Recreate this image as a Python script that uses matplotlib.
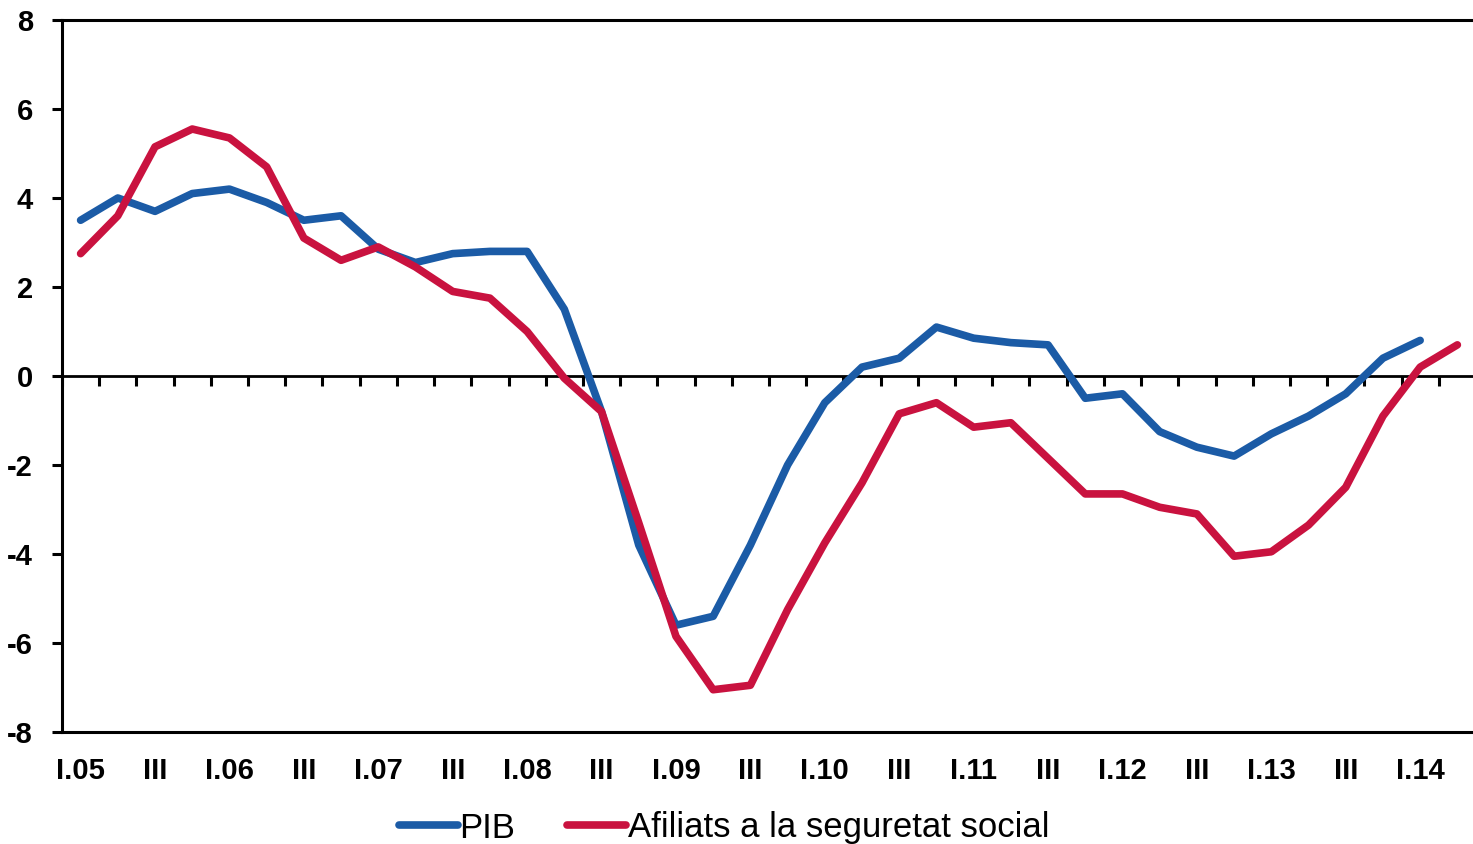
import numpy as np
import matplotlib
matplotlib.use("Agg")
import matplotlib.pyplot as plt

plt.rcParams['font.family'] = ['Liberation Sans', 'DejaVu Sans']
plt.rcParams['axes.unicode_minus'] = False

# quarterly data, I.05 .. II.14
years = ['05', '06', '07', '08', '09', '10', '11', '12', '13', '14']
quarters = []
for yy in years:
    quarters += ['I.' + yy, 'II', 'III', 'IV']
quarters = quarters[:38]

pib = [3.5, 4.0, 3.7, 4.1, 4.2, 3.9, 3.5, 3.6,
       2.85, 2.55, 2.75, 2.8, 2.8, 1.5, -0.8, -3.8,
       -5.6, -5.4, -3.8, -2.0, -0.6, 0.2, 0.4, 1.1,
       0.85, 0.75, 0.7, -0.5, -0.4, -1.25, -1.6, -1.8,
       -1.3, -0.9, -0.4, 0.4, 0.8]

afiliats = [2.75, 3.6, 5.15, 5.55, 5.35, 4.7, 3.1, 2.6,
            2.9, 2.45, 1.9, 1.75, 1.0, -0.05, -0.8, -3.3,
            -5.85, -7.05, -6.95, -5.25, -3.75, -2.4, -0.85, -0.6,
            -1.15, -1.05, -1.85, -2.65, -2.65, -2.95, -3.1, -4.05,
            -3.95, -3.35, -2.5, -0.9, 0.2, 0.7]

y_ticks = [-8, -6, -4, -2, 0, 2, 4, 6, 8]

blue = '#1b5ba6'
red = '#c9123f'

fig = plt.figure(figsize=(14.73, 8.44), dpi=100)
ax = fig.add_axes([62 / 1473, 1 - 732 / 844, 1 - 62 / 1473, (732 - 20) / 844])

x_pib = np.arange(len(pib))
x_af = np.arange(len(afiliats))
ax.plot(x_pib, pib, color=blue, lw=5.5, solid_capstyle='round', label='PIB', zorder=3)
ax.plot(x_af, afiliats, color=red, lw=5.5, solid_capstyle='round',
        label='Afiliats a la seguretat social', zorder=4)

# zero line with quarter separators
ax.axhline(0, color='black', lw=2, zorder=2)
bounds = np.arange(len(quarters) + 1) - 0.5
ax.plot(bounds, np.zeros(len(bounds)), linestyle='none', marker=3,
        markersize=7, mew=2.2, color='black', zorder=2)

ax.set_xlim(-0.5, 37.42)
ax.set_ylim(-8, 8)
ax.set_yticks(y_ticks)
ax.set_yticklabels([str(v) for v in y_ticks], fontsize=21, fontweight='bold')

idx = np.arange(0, len(quarters), 2)
ax.set_xticks(idx)
ax.set_xticklabels([quarters[i] for i in idx], fontsize=21, fontweight='bold')
ax.tick_params(axis='x', length=0, pad=18)
ax.tick_params(axis='y', length=7, width=2.2, direction='out', pad=14)

for side in ['left', 'bottom', 'top']:
    ax.spines[side].set_linewidth(2.2)
ax.spines['right'].set_visible(False)

fig.legend(loc='center', bbox_to_anchor=(724 / 1473, 1 - 828 / 844), ncol=2,
           frameon=False, fontsize=25, handlelength=1.7, handletextpad=0.05,
           columnspacing=1.5)

fig.savefig('out.png', dpi=100)
